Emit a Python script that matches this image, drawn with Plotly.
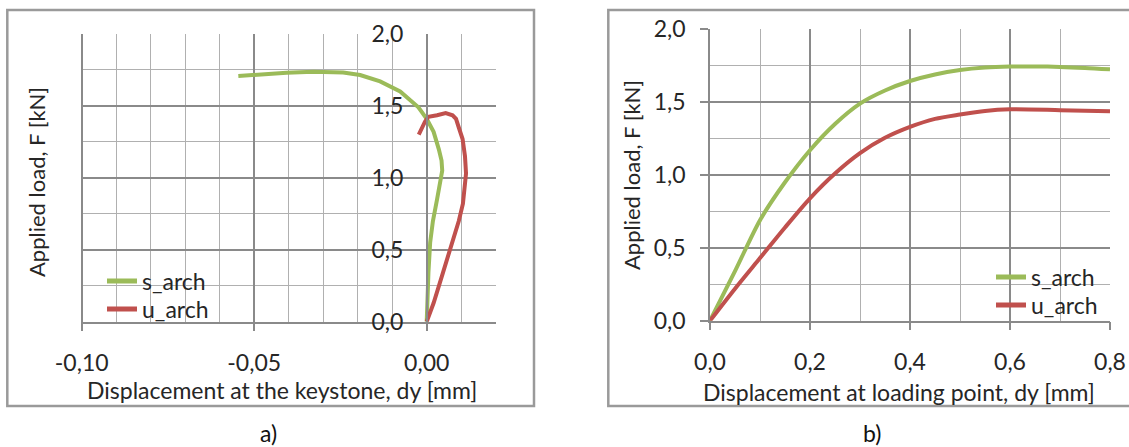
import plotly.graph_objects as go

# ---------------- data: panel a) displacement at the keystone ----------------
a_s_arch_x = [0.0, 0.0002, 0.0005, 0.001, 0.0018, 0.003, 0.004, 0.0045, 0.0043, 0.0035, 0.002, 0.0,
              -0.0024, -0.0077, -0.0135, -0.0193, -0.0242, -0.0329, -0.0406, -0.0473, -0.0546]
a_s_arch_y = [0.0, 0.2, 0.34, 0.55, 0.70, 0.85, 0.97, 1.05, 1.12, 1.20, 1.32, 1.41,
              1.49, 1.60, 1.67, 1.715, 1.733, 1.738, 1.731, 1.722, 1.708]
a_u_arch_x = [0.0, 0.002, 0.0047, 0.0075, 0.0093, 0.0105, 0.0112, 0.0114, 0.0111, 0.0104, 0.0093,
              0.0085, 0.0075, 0.0055, 0.003, 0.0005, -0.0005, -0.0023]
a_u_arch_y = [0.0, 0.13, 0.34, 0.55, 0.70, 0.82, 0.95, 1.03, 1.15, 1.27, 1.35,
              1.41, 1.435, 1.45, 1.435, 1.425, 1.39, 1.30]

# ---------------- data: panel b) displacement at loading point ----------------
b_s_arch_x = [0.0, 0.05, 0.1, 0.15, 0.2, 0.25, 0.3, 0.35, 0.4, 0.45, 0.5, 0.55, 0.6, 0.65,
              0.7, 0.75, 0.8]
b_s_arch_y = [0.0, 0.34, 0.69, 0.95, 1.17, 1.35, 1.49, 1.58, 1.645, 1.69, 1.72, 1.737, 1.744,
              1.745, 1.742, 1.735, 1.725]
b_u_arch_x = [0.0, 0.05, 0.1, 0.15, 0.2, 0.25, 0.3, 0.35, 0.4, 0.45, 0.5, 0.55, 0.6, 0.7, 0.8]
b_u_arch_y = [0.0, 0.22, 0.43, 0.64, 0.84, 1.01, 1.15, 1.255, 1.33, 1.385, 1.415, 1.44, 1.451,
              1.445, 1.437]

# ---------------- tick labels / grid values ----------------
a_x_tickvals = [-0.10, -0.05, 0.00]
a_x_ticktext = ["-0,10", "-0,05", "0,00"]
a_x_minor = [-0.10, -0.09, -0.08, -0.07, -0.06, -0.05, -0.04, -0.03, -0.02, -0.01, 0.0, 0.01, 0.02]
b_x_tickvals = [0.0, 0.2, 0.4, 0.6, 0.8]
b_x_ticktext = ["0,0", "0,2", "0,4", "0,6", "0,8"]
b_x_minor = [0.0, 0.1, 0.2, 0.3, 0.4, 0.5, 0.6, 0.7, 0.8]
y_tickvals = [0.0, 0.5, 1.0, 1.5, 2.0]
y_ticktext = ["0,0", "0,5", "1,0", "1,5", "2,0"]
y_minor = [0.0, 0.25, 0.5, 0.75, 1.0, 1.25, 1.5, 1.75, 2.0]

series_names = ["s_arch", "u_arch"]
GREEN = "#9BBB59"
RED = "#C0504D"
FONT = "Lato"
TXT = "#262626"
GRID_MAJ = "#8a8a8a"
GRID_MIN = "#b0b0b0"
TICK_SIZE = 23
TITLE_SIZE = 23

W, H = 1129, 447


def px_x(p):
    return p / W


def px_y(p):
    return 1 - p / H


fig = go.Figure()
fig.add_trace(go.Scatter(x=a_s_arch_x, y=a_s_arch_y, name=series_names[0], mode="lines",
                         line=dict(color=GREEN, width=4), xaxis="x", yaxis="y",
                         legend="legend5", showlegend=True))
fig.add_trace(go.Scatter(x=a_u_arch_x, y=a_u_arch_y, name=series_names[1], mode="lines",
                         line=dict(color=RED, width=4), xaxis="x", yaxis="y",
                         legend="legend2", showlegend=True))
fig.add_trace(go.Scatter(x=b_s_arch_x, y=b_s_arch_y, name=series_names[0], mode="lines",
                         line=dict(color=GREEN, width=4, shape="spline", smoothing=0.8),
                         xaxis="x2", yaxis="y2", legend="legend3", showlegend=True))
fig.add_trace(go.Scatter(x=b_u_arch_x, y=b_u_arch_y, name=series_names[1], mode="lines",
                         line=dict(color=RED, width=4, shape="spline", smoothing=0.8),
                         xaxis="x2", yaxis="y2", legend="legend4", showlegend=True))

common_axis = dict(
    showgrid=True, gridcolor=GRID_MAJ, gridwidth=1.5, zeroline=False,
    showline=True, linecolor=GRID_MAJ, linewidth=1.5,
    tickfont=dict(family=FONT, size=TICK_SIZE, color=TXT),
    fixedrange=True, automargin=False, tickmode="array",
)


def minor(vals):
    return dict(tickmode="array", tickvals=vals, showgrid=True, gridcolor=GRID_MIN,
                gridwidth=1.3, ticks="")


def legend_at(x_px, top_px):
    return dict(x=px_x(x_px), y=px_y(top_px), xanchor="left", yanchor="top", visible=True,
                bgcolor="rgba(0,0,0,0)", font=dict(family=FONT, size=TICK_SIZE, color=TXT),
                itemsizing="constant")


# x = -0.10 sits 1 px inside the plot so its gridline is drawn
A_X0 = -0.1003
A_PX0 = 81.7 - 0.0003 * 3450

fig.update_layout(
    width=W, height=H,
    showlegend=True,
    margin=dict(l=0, r=0, t=0, b=0, autoexpand=False),
    paper_bgcolor="white", plot_bgcolor="white",
    font=dict(family=FONT, size=TICK_SIZE, color=TXT),
    xaxis=dict(common_axis, domain=[px_x(A_PX0), px_x(495.7)], range=[A_X0, 0.02], anchor="y",
               tickvals=a_x_tickvals, ticktext=a_x_ticktext,
               ticks="outside", ticklen=8, tickcolor=GRID_MAJ, tickwidth=1.5,
               ticklabelstandoff=12, minor=minor(a_x_minor)),
    yaxis=dict(common_axis, domain=[px_y(321.7), px_y(34)], range=[0, 2.0],
               anchor="free", position=px_x(426.7),
               tickvals=y_tickvals, ticktext=y_ticktext,
               ticks="", ticklabelstandoff=18, minor=minor(y_minor)),
    xaxis2=dict(common_axis, domain=[px_x(710), px_x(1110)], range=[0, 0.8], anchor="y2",
                tickvals=b_x_tickvals, ticktext=b_x_ticktext,
                ticks="outside", ticklen=8, tickcolor=GRID_MAJ, tickwidth=1.5,
                ticklabelstandoff=12, minor=minor(b_x_minor)),
    yaxis2=dict(common_axis, domain=[px_y(320.7), px_y(29.3)], range=[0, 2.0], anchor="x2",
                tickvals=y_tickvals, ticktext=y_ticktext,
                ticks="outside", ticklen=8, tickcolor=GRID_MAJ, tickwidth=1.5,
                ticklabelstandoff=10, minor=minor(y_minor)),
    legend=dict(visible=False),
    legend5=legend_at(102, 259.5),
    legend2=legend_at(102, 287.5),
    legend3=legend_at(991, 255.5),
    legend4=legend_at(991, 283.5),
    shapes=[
        dict(type="rect", xref="paper", yref="paper", x0=px_x(7.3), x1=px_x(534),
             y0=px_y(406), y1=px_y(10), line=dict(color="#9a9a9a", width=2.5), layer="below"),
        dict(type="rect", xref="paper", yref="paper", x0=px_x(608.3), x1=px_x(1135),
             y0=px_y(406), y1=px_y(10), line=dict(color="#9a9a9a", width=2.5), layer="below"),
    ],
    annotations=[
        dict(text="Applied load, F [kN]", xref="paper", yref="paper", x=px_x(37), y=px_y(182),
             textangle=-90, showarrow=False, font=dict(family=FONT, size=TITLE_SIZE - 1, color=TXT),
             xanchor="center", yanchor="middle"),
        dict(text="Applied load, F [kN]", xref="paper", yref="paper", x=px_x(631), y=px_y(175),
             textangle=-90, showarrow=False, font=dict(family=FONT, size=TITLE_SIZE - 1, color=TXT),
             xanchor="center", yanchor="middle"),
        dict(text="Displacement at the keystone, dy [mm]", xref="paper", yref="paper",
             x=px_x(281.5), y=px_y(390), showarrow=False,
             font=dict(family=FONT, size=TITLE_SIZE, color=TXT), xanchor="center", yanchor="middle"),
        dict(text="Displacement at loading point, dy [mm]", xref="paper", yref="paper",
             x=px_x(899), y=px_y(392), showarrow=False,
             font=dict(family=FONT, size=TITLE_SIZE, color=TXT), xanchor="center", yanchor="middle"),
        dict(text="a)", xref="paper", yref="paper", x=px_x(268), y=px_y(433), showarrow=False,
             font=dict(family=FONT, size=TICK_SIZE, color="#111111"), xanchor="center", yanchor="middle"),
        dict(text="b)", xref="paper", yref="paper", x=px_x(872), y=px_y(433), showarrow=False,
             font=dict(family=FONT, size=TICK_SIZE, color="#111111"), xanchor="center", yanchor="middle"),
    ],
)

fig.write_html("out.html")
